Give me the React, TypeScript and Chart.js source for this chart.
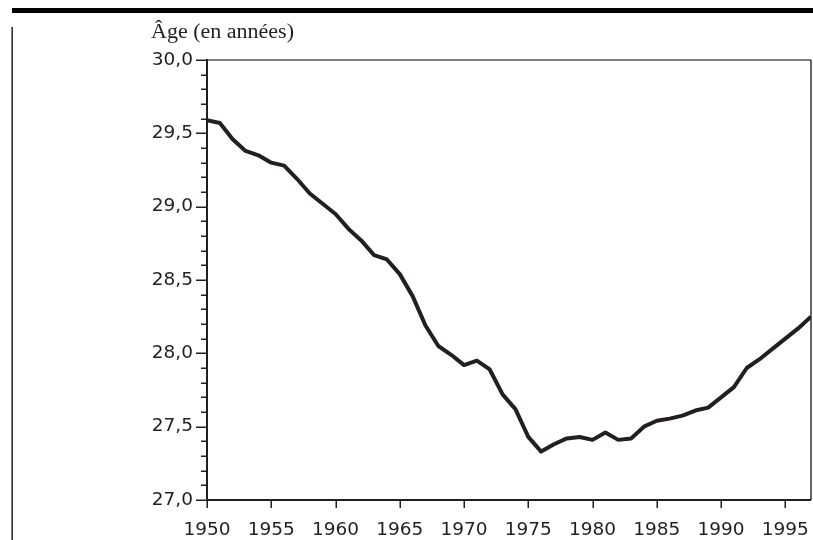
import React, { useEffect, useRef } from "react";
import { Chart, registerables } from "chart.js";

Chart.register(...registerables);

const YEARS = [
  1950, 1951, 1952, 1953, 1954, 1955, 1956, 1957, 1958, 1959,
  1960, 1961, 1962, 1963, 1964, 1965, 1966, 1967, 1968, 1969,
  1970, 1971, 1972, 1973, 1974, 1975, 1976, 1977, 1978, 1979,
  1980, 1981, 1982, 1983, 1984, 1985, 1986, 1987, 1988, 1989,
  1990, 1991, 1992, 1993, 1994, 1995, 1996, 1997,
];
const AGES = [
  29.59, 29.57, 29.46, 29.38, 29.35, 29.30, 29.28, 29.19, 29.09, 29.02,
  28.95, 28.85, 28.77, 28.67, 28.64, 28.54, 28.39, 28.19, 28.05, 27.99,
  27.92, 27.95, 27.89, 27.72, 27.62, 27.43, 27.33, 27.38, 27.42, 27.43,
  27.41, 27.46, 27.41, 27.42, 27.50, 27.54, 27.555, 27.575, 27.61, 27.63,
  27.70, 27.77, 27.90, 27.96, 28.03, 28.10, 28.17, 28.25,
];
const X_TICKS = [1950, 1955, 1960, 1965, 1970, 1975, 1980, 1985, 1990, 1995];
const Y_TICKS = [27.0, 27.5, 28.0, 28.5, 29.0, 29.5, 30.0];
const Y_MINOR = [27.1, 27.2, 27.3, 27.4, 27.6, 27.7, 27.8, 27.9, 28.1, 28.2, 28.3, 28.4, 28.6, 28.7, 28.8, 28.9, 29.1, 29.2, 29.3, 29.4, 29.6, 29.7, 29.8, 29.9];
const Y_TITLE = "Âge (en années)";

const INK = "#231f20";

const framePlugin = {
  id: "frame",
  beforeDatasetsDraw(chart: any) {
    const ctx = chart.ctx;
    const { left, right, top, bottom } = chart.chartArea;
    const xs = chart.scales.x;
    const ys = chart.scales.y;
    ctx.save();
    ctx.strokeStyle = "#555";
    ctx.lineWidth = 1.5;
    ctx.beginPath();
    ctx.moveTo(left, top);
    ctx.lineTo(right, top);
    ctx.stroke();
    ctx.strokeStyle = "#333";
    ctx.beginPath();
    ctx.moveTo(right, top);
    ctx.lineTo(right, bottom);
    ctx.stroke();
    ctx.strokeStyle = INK;
    ctx.lineWidth = 2;
    ctx.beginPath();
    ctx.moveTo(left, top - 1);
    ctx.lineTo(left, bottom + 1);
    ctx.moveTo(left - 1, bottom);
    ctx.lineTo(right, bottom);
    ctx.stroke();
    ctx.lineWidth = 1.5;
    ctx.beginPath();
    Y_TICKS.forEach((v) => {
      const y = Math.round(ys.getPixelForValue(v)) + 0.25;
      ctx.moveTo(left - 11, y);
      ctx.lineTo(left, y);
    });
    Y_MINOR.forEach((v) => {
      const y = Math.round(ys.getPixelForValue(v)) + 0.25;
      ctx.moveTo(left - 6, y);
      ctx.lineTo(left, y);
    });
    X_TICKS.forEach((v) => {
      const x = Math.round(xs.getPixelForValue(v)) + 0.25;
      ctx.moveTo(x, bottom);
      ctx.lineTo(x, bottom + 8);
    });
    ctx.stroke();
    ctx.restore();
  },
  afterDraw(chart: any) {
    const ctx = chart.ctx;
    ctx.save();
    ctx.fillStyle = "#000";
    ctx.fillRect(12, 8, 813 - 12, 5);
    ctx.fillRect(11.5, 27, 1.3, 540 - 27);
    ctx.fillStyle = INK;
    ctx.font = "20px 'Liberation Serif'";
    ctx.textBaseline = "alphabetic";
    ctx.textAlign = "left";
    const w = ctx.measureText(Y_TITLE).width;
    const sx = 143 / w;
    ctx.translate(151, 37.5);
    ctx.scale(sx, 1);
    ctx.fillText(Y_TITLE, 0, 0);
    ctx.restore();
  },
};

export default function App() {
  const ref = useRef<HTMLCanvasElement | null>(null);
  useEffect(() => {
    if (!ref.current) return;
    const chart = new Chart(ref.current, {
      type: "line",
      data: {
        datasets: [
          {
            data: YEARS.map((y, i) => ({ x: y, y: AGES[i] })),
            borderColor: INK,
            borderWidth: 4,
            pointRadius: 0,
            tension: 0,
            fill: false,
            borderJoinStyle: "round",
          },
        ],
      },
      options: {
        responsive: false,
        animation: false,
        layout: { padding: { top: 60, right: 2, left: 0, bottom: 0 } },
        plugins: { legend: { display: false }, tooltip: { enabled: false }, title: { display: false } },
        scales: {
          x: {
            type: "linear",
            min: 1950,
            max: 1997,
            grid: { display: false, drawTicks: false },
            border: { display: false },
            afterBuildTicks: (s: any) => {
              s.ticks = X_TICKS.map((v) => ({ value: v }));
            },
            afterFit: (s: any) => {
              s.height = 40;
              s.paddingLeft = 0;
              s.paddingRight = 0;
            },
            ticks: {
              autoSkip: false,
              maxRotation: 0,
              padding: 19,
              color: INK,
              font: { family: "'DejaVu Sans'", size: 18.5 },
              callback: (v: any) => String(v),
            },
          },
          y: {
            type: "linear",
            min: 27,
            max: 30,
            grid: { display: false, drawTicks: false },
            border: { display: false },
            afterBuildTicks: (s: any) => {
              s.ticks = Y_TICKS.map((v) => ({ value: v }));
            },
            afterFit: (s: any) => {
              s.width = 207;
              s.paddingTop = 0;
              s.paddingBottom = 0;
            },
            ticks: {
              autoSkip: false,
              padding: 14,
              color: INK,
              font: { family: "'DejaVu Sans'", size: 18.5 },
              callback: (v: any) => Number(v).toFixed(1).replace(".", ","),
            },
          },
        },
      },
      plugins: [framePlugin],
    } as any);
    return () => chart.destroy();
  }, []);
  return (
    <div style={{ position: "fixed", left: 0, top: 0, width: 813, height: 540, background: "#fff" }}>
      <canvas ref={ref} width={813} height={540} style={{ display: "block" }} />
    </div>
  );
}
